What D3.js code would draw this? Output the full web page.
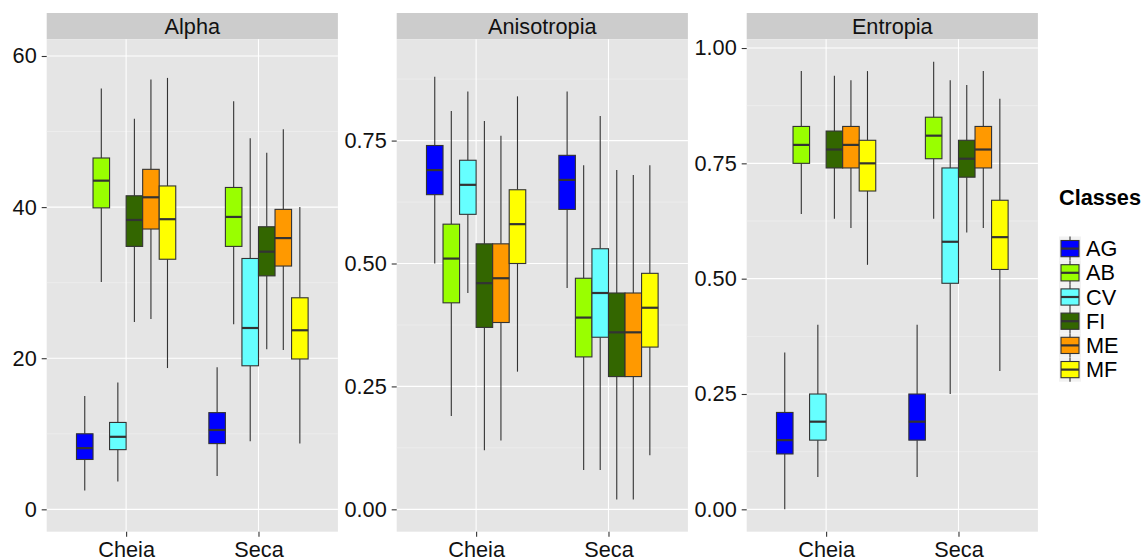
<!DOCTYPE html>
<html>
<head>
<meta charset="utf-8">
<script src="https://cdn.jsdelivr.net/npm/d3@7"></script>
<style>
  body { margin: 0; background: #fff; }
  svg { font-family: "Liberation Sans", Arial, sans-serif; }
</style>
</head>
<body>
<div id="chart"></div>
<script>
// data: [lower whisker, q1, median, q3, upper whisker]
const periods = ["Cheia", "Seca"];
const classes = ["AG", "AB", "CV", "FI", "ME", "MF"];
const classColors = ["#0000FF", "#99FF00", "#66FFFF", "#336600", "#FF9900", "#FFFF00"];
const panelNames = ["Alpha", "Anisotropia", "Entropia"];

const alphaCheia = [[2.5, 6.6, 8.1, 10.0, 15.0], [30.1, 39.9, 43.5, 46.5, 55.7], [3.7, 7.9, 9.6, 11.5, 16.8],
                    [24.8, 34.8, 38.3, 41.5, 51.7], [25.2, 37.1, 41.3, 45.0, 56.9], [18.7, 33.1, 38.4, 42.8, 57.1]];
const alphaSeca  = [[4.4, 8.7, 10.5, 12.8, 18.8], [24.5, 34.8, 38.7, 42.6, 54.0], [9.0, 19.0, 24.0, 33.2, 49.1],
                    [21.2, 30.9, 34.1, 37.4, 47.2], [21.1, 32.2, 35.9, 39.7, 50.3], [8.7, 19.9, 23.7, 28.0, 40.0]];
const aniCheia = [[0.50, 0.64, 0.69, 0.74, 0.88], [0.19, 0.42, 0.51, 0.58, 0.81], [0.44, 0.60, 0.66, 0.71, 0.85],
                  [0.12, 0.37, 0.46, 0.54, 0.79], [0.14, 0.38, 0.47, 0.54, 0.76], [0.28, 0.50, 0.58, 0.65, 0.84]];
const aniSeca  = [[0.45, 0.61, 0.67, 0.72, 0.85], [0.08, 0.31, 0.39, 0.47, 0.70], [0.08, 0.35, 0.44, 0.53, 0.80],
                  [0.02, 0.27, 0.36, 0.44, 0.69], [0.02, 0.27, 0.36, 0.44, 0.68], [0.11, 0.33, 0.41, 0.48, 0.70]];
const entCheia = [[0.00, 0.12, 0.15, 0.21, 0.34], [0.64, 0.75, 0.79, 0.83, 0.95], [0.07, 0.15, 0.19, 0.25, 0.40],
                  [0.63, 0.74, 0.78, 0.82, 0.94], [0.61, 0.74, 0.79, 0.83, 0.93], [0.53, 0.69, 0.75, 0.80, 0.95]];
const entSeca  = [[0.07, 0.15, 0.19, 0.25, 0.40], [0.63, 0.76, 0.81, 0.85, 0.97], [0.25, 0.49, 0.58, 0.74, 0.93],
                  [0.60, 0.72, 0.76, 0.80, 0.92], [0.61, 0.74, 0.78, 0.83, 0.95], [0.30, 0.52, 0.59, 0.67, 0.89]];

const alphaTicks = [0, 20, 40, 60];
const aniTicks = [0, 0.25, 0.5, 0.75];
const entTicks = [0, 0.25, 0.5, 0.75, 1];

const panels = [
  { name: panelNames[0], stats: [alphaCheia, alphaSeca], ticks: alphaTicks, domain: [-2.96, 62.21], fmt: d3.format("d") },
  { name: panelNames[1], stats: [aniCheia, aniSeca], ticks: aniTicks, domain: [-0.0455, 0.956], fmt: d3.format(".2f") },
  { name: panelNames[2], stats: [entCheia, entSeca], ticks: entTicks, domain: [-0.0485, 1.0189], fmt: d3.format(".2f") }
];

const width = 1145, height = 559;
const panelLeft = [46.7, 396.7, 746.7];
const panelW = 291.2;
const stripTop = 13, panelTop = 39.3, panelBottom = 531.7;
const ink = "#333333";
const fs = 21.7;

const svg = d3.select("#chart").append("svg")
  .attr("width", width).attr("height", height);

panels.forEach((p, pi) => {
  const x0 = panelLeft[pi];
  const g = svg.append("g").attr("transform", `translate(${x0},0)`);

  const x = d3.scalePoint().domain(periods).range([0, panelW]).padding(0.6);
  const step = x.step();
  const dodge = d3.scaleBand().domain(classes).range([-0.375 * step, 0.375 * step]);
  const y = d3.scaleLinear().domain(p.domain).range([panelBottom, panelTop]);

  // strip
  g.append("rect").attr("x", 0).attr("y", stripTop).attr("width", panelW)
    .attr("height", panelTop - stripTop).attr("fill", "#CCCCCC");
  g.append("text").attr("x", panelW / 2).attr("y", (stripTop + panelTop) / 2 + 0.5)
    .attr("text-anchor", "middle").attr("dominant-baseline", "central")
    .attr("font-size", fs).attr("fill", "#111").text(p.name);

  // background
  g.append("rect").attr("x", 0).attr("y", panelTop).attr("width", panelW)
    .attr("height", panelBottom - panelTop).attr("fill", "#E5E5E5");

  // minor grid
  const tstep = p.ticks[1] - p.ticks[0];
  const minors = [];
  for (let v = p.ticks[0] - tstep / 2; v <= p.ticks[p.ticks.length - 1] + tstep / 2 + 1e-9; v += tstep) {
    if (v > p.domain[0] && v < p.domain[1]) minors.push(v);
  }
  g.selectAll(".minor").data(minors).enter().append("line")
    .attr("x1", 0).attr("x2", panelW)
    .attr("y1", d => y(d)).attr("y2", d => y(d))
    .attr("stroke", "#F2F2F2").attr("stroke-width", 0.6);

  // major grid
  g.selectAll(".major").data(p.ticks).enter().append("line")
    .attr("x1", 0).attr("x2", panelW)
    .attr("y1", d => y(d)).attr("y2", d => y(d))
    .attr("stroke", "#FFFFFF").attr("stroke-width", 1.1);
  g.selectAll(".vgrid").data(periods).enter().append("line")
    .attr("x1", d => x(d)).attr("x2", d => x(d))
    .attr("y1", panelTop).attr("y2", panelBottom)
    .attr("stroke", "#FFFFFF").attr("stroke-width", 1.1);

  // boxes
  periods.forEach((per, k) => {
    p.stats[k].forEach((s, ci) => {
      const cls = classes[ci];
      const bx = x(per) + dodge(cls);
      const bw = dodge.bandwidth();
      const cx = bx + bw / 2;
      const bg = g.append("g");
      bg.append("line").attr("x1", cx).attr("x2", cx).attr("y1", y(s[4])).attr("y2", y(s[3]))
        .attr("stroke", ink).attr("stroke-width", 1.1);
      bg.append("line").attr("x1", cx).attr("x2", cx).attr("y1", y(s[1])).attr("y2", y(s[0]))
        .attr("stroke", ink).attr("stroke-width", 1.1);
      bg.append("rect").attr("x", bx).attr("y", y(s[3])).attr("width", bw)
        .attr("height", y(s[1]) - y(s[3]))
        .attr("fill", classColors[ci]).attr("stroke", ink).attr("stroke-width", 1.1);
      bg.append("line").attr("x1", bx).attr("x2", bx + bw).attr("y1", y(s[2])).attr("y2", y(s[2]))
        .attr("stroke", ink).attr("stroke-width", 2.2);
    });
  });

  // axes
  const ya = g.append("g")
    .call(d3.axisLeft(y).tickValues(p.ticks).tickFormat(p.fmt).tickSize(5).tickPadding(5));
  ya.select(".domain").remove();
  ya.selectAll("line").attr("stroke", ink).attr("stroke-width", 1.1);
  ya.selectAll("text").attr("font-size", fs).attr("fill", "#111").attr("font-family", "Liberation Sans, Arial, sans-serif");

  const xa = g.append("g").attr("transform", `translate(0,${panelBottom})`)
    .call(d3.axisBottom(x).tickSize(5).tickPadding(5));
  xa.select(".domain").remove();
  xa.selectAll("line").attr("stroke", ink).attr("stroke-width", 1.1);
  xa.selectAll("text").attr("font-size", fs).attr("fill", "#111").attr("font-family", "Liberation Sans, Arial, sans-serif");
});

// legend
const leg = svg.append("g").attr("transform", "translate(1059,0)");
leg.append("text").attr("x", 0).attr("y", 205).attr("font-size", fs).attr("font-weight", "bold")
  .attr("fill", "#000").text("Classes");
const keyH = 24.2, keyW = 22, keyTop = 236.5;
classes.forEach((c, i) => {
  const ky = keyTop + i * keyH;
  const k = leg.append("g").attr("transform", `translate(0,${ky})`);
  k.append("rect").attr("x", 0).attr("y", 0).attr("width", keyW).attr("height", keyH).attr("fill", "#F2F2F2");
  k.append("line").attr("x1", keyW / 2).attr("x2", keyW / 2).attr("y1", 0).attr("y2", keyH)
    .attr("stroke", ink).attr("stroke-width", 1.1);
  k.append("rect").attr("x", 2).attr("y", 4).attr("width", keyW - 4).attr("height", keyH - 8)
    .attr("fill", classColors[i]).attr("stroke", ink).attr("stroke-width", 1.1);
  k.append("line").attr("x1", 2).attr("x2", keyW - 2).attr("y1", keyH / 2).attr("y2", keyH / 2)
    .attr("stroke", ink).attr("stroke-width", 2.2);
  leg.append("text").attr("x", 27).attr("y", ky + keyH / 2).attr("dominant-baseline", "central")
    .attr("font-size", fs).attr("fill", "#000").text(c);
});
</script>
</body>
</html>
